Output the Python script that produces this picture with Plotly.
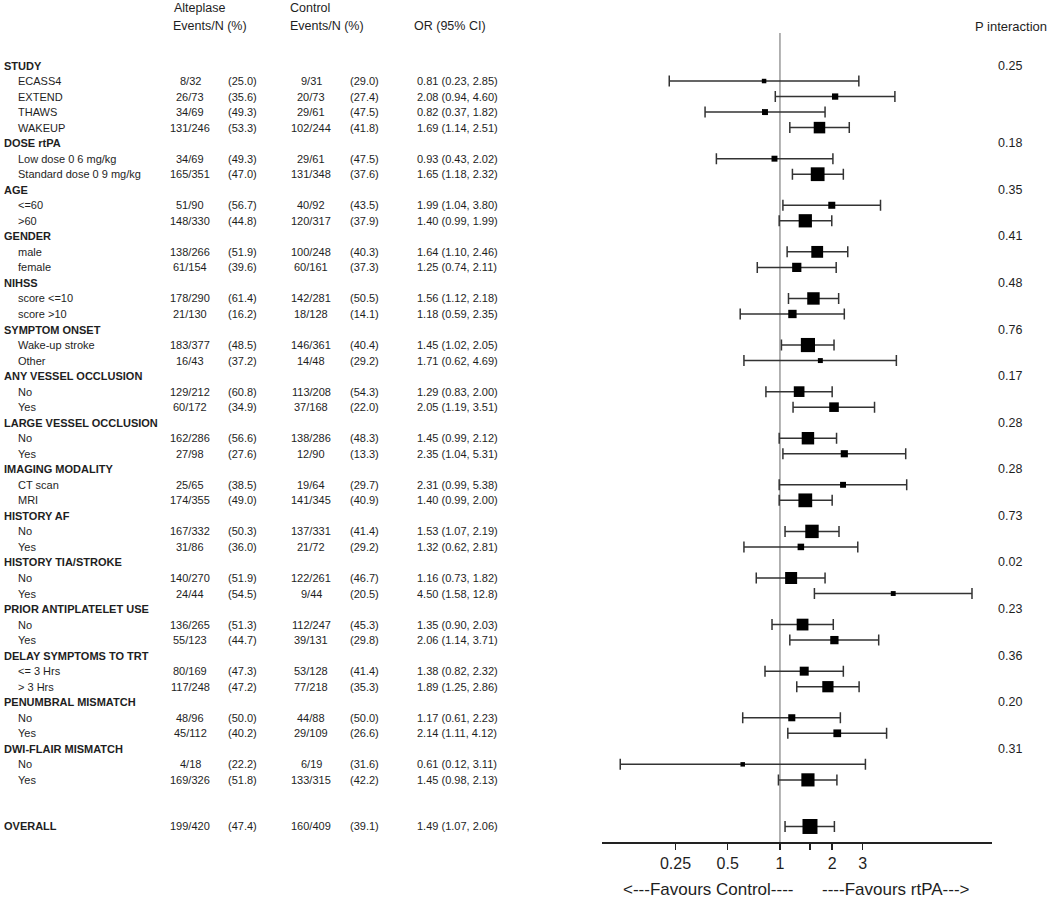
import plotly.graph_objects as go

# ---------------- data ----------------
labels = [
    "STUDY", "ECASS4", "EXTEND", "THAWS", "WAKEUP",
    "DOSE rtPA", "Low dose 0 6 mg/kg", "Standard dose 0 9 mg/kg",
    "AGE", "<=60", ">60",
    "GENDER", "male", "female",
    "NIHSS", "score <=10", "score >10",
    "SYMPTOM ONSET", "Wake-up stroke", "Other",
    "ANY VESSEL OCCLUSION", "No", "Yes",
    "LARGE VESSEL OCCLUSION", "No", "Yes",
    "IMAGING MODALITY", "CT scan", "MRI",
    "HISTORY AF", "No", "Yes",
    "HISTORY TIA/STROKE", "No", "Yes",
    "PRIOR ANTIPLATELET USE", "No", "Yes",
    "DELAY SYMPTOMS TO TRT", "<= 3 Hrs", "> 3 Hrs",
    "PENUMBRAL MISMATCH", "No", "Yes",
    "DWI-FLAIR MISMATCH", "No", "Yes",
    "", "",
    "OVERALL",
]
is_group = [
    1, 0, 0, 0, 0,
    1, 0, 0,
    1, 0, 0,
    1, 0, 0,
    1, 0, 0,
    1, 0, 0,
    1, 0, 0,
    1, 0, 0,
    1, 0, 0,
    1, 0, 0,
    1, 0, 0,
    1, 0, 0,
    1, 0, 0,
    1, 0, 0,
    1, 0, 0,
    0, 0,
    1,
]
N_ = None
alt_events = [N_, 8, 26, 34, 131, N_, 34, 165, N_, 51, 148, N_, 138, 61, N_, 178, 21, N_, 183, 16,
              N_, 129, 60, N_, 162, 27, N_, 25, 174, N_, 167, 31, N_, 140, 24, N_, 136, 55,
              N_, 80, 117, N_, 48, 45, N_, 4, 169, N_, N_, 199]
alt_n = [N_, 32, 73, 69, 246, N_, 69, 351, N_, 90, 330, N_, 266, 154, N_, 290, 130, N_, 377, 43,
         N_, 212, 172, N_, 286, 98, N_, 65, 355, N_, 332, 86, N_, 270, 44, N_, 265, 123,
         N_, 169, 248, N_, 96, 112, N_, 18, 326, N_, N_, 420]
alt_pct = [N_, 25.0, 35.6, 49.3, 53.3, N_, 49.3, 47.0, N_, 56.7, 44.8, N_, 51.9, 39.6, N_, 61.4, 16.2,
           N_, 48.5, 37.2, N_, 60.8, 34.9, N_, 56.6, 27.6, N_, 38.5, 49.0, N_, 50.3, 36.0,
           N_, 51.9, 54.5, N_, 51.3, 44.7, N_, 47.3, 47.2, N_, 50.0, 40.2, N_, 22.2, 51.8, N_, N_, 47.4]
ctl_events = [N_, 9, 20, 29, 102, N_, 29, 131, N_, 40, 120, N_, 100, 60, N_, 142, 18, N_, 146, 14,
              N_, 113, 37, N_, 138, 12, N_, 19, 141, N_, 137, 21, N_, 122, 9, N_, 112, 39,
              N_, 53, 77, N_, 44, 29, N_, 6, 133, N_, N_, 160]
ctl_n = [N_, 31, 73, 61, 244, N_, 61, 348, N_, 92, 317, N_, 248, 161, N_, 281, 128, N_, 361, 48,
         N_, 208, 168, N_, 286, 90, N_, 64, 345, N_, 331, 72, N_, 261, 44, N_, 247, 131,
         N_, 128, 218, N_, 88, 109, N_, 19, 315, N_, N_, 409]
ctl_pct = [N_, 29.0, 27.4, 47.5, 41.8, N_, 47.5, 37.6, N_, 43.5, 37.9, N_, 40.3, 37.3, N_, 50.5, 14.1,
           N_, 40.4, 29.2, N_, 54.3, 22.0, N_, 48.3, 13.3, N_, 29.7, 40.9, N_, 41.4, 29.2,
           N_, 46.7, 20.5, N_, 45.3, 29.8, N_, 41.4, 35.3, N_, 50.0, 26.6, N_, 31.6, 42.2, N_, N_, 39.1]
odds_ratio = [N_, 0.81, 2.08, 0.82, 1.69, N_, 0.93, 1.65, N_, 1.99, 1.40, N_, 1.64, 1.25, N_, 1.56, 1.18,
              N_, 1.45, 1.71, N_, 1.29, 2.05, N_, 1.45, 2.35, N_, 2.31, 1.40, N_, 1.53, 1.32,
              N_, 1.16, 4.50, N_, 1.35, 2.06, N_, 1.38, 1.89, N_, 1.17, 2.14, N_, 0.61, 1.45, N_, N_, 1.49]
ci_low = [N_, 0.23, 0.94, 0.37, 1.14, N_, 0.43, 1.18, N_, 1.04, 0.99, N_, 1.10, 0.74, N_, 1.12, 0.59,
          N_, 1.02, 0.62, N_, 0.83, 1.19, N_, 0.99, 1.04, N_, 0.99, 0.99, N_, 1.07, 0.62,
          N_, 0.73, 1.58, N_, 0.90, 1.14, N_, 0.82, 1.25, N_, 0.61, 1.11, N_, 0.12, 0.98, N_, N_, 1.07]
ci_high = [N_, 2.85, 4.60, 1.82, 2.51, N_, 2.02, 2.32, N_, 3.80, 1.99, N_, 2.46, 2.11, N_, 2.18, 2.35,
           N_, 2.05, 4.69, N_, 2.00, 3.51, N_, 2.12, 5.31, N_, 5.38, 2.00, N_, 2.19, 2.81,
           N_, 1.82, 12.8, N_, 2.03, 3.71, N_, 2.32, 2.86, N_, 2.23, 4.12, N_, 3.11, 2.13, N_, N_, 2.06]
p_interaction = [0.25, N_, N_, N_, N_, 0.18, N_, N_, 0.35, N_, N_, 0.41, N_, N_, 0.48, N_, N_,
                 0.76, N_, N_, 0.17, N_, N_, 0.28, N_, N_, 0.28, N_, N_, 0.73, N_, N_,
                 0.02, N_, N_, 0.23, N_, N_, 0.36, N_, N_, 0.20, N_, N_, 0.31, N_, N_, N_, N_, N_]
tick_values = [0.25, 0.5, 1, 2, 3]

# ---------------- layout helpers ----------------
W, H = 1050, 901
FONT = "Liberation Sans, Arial, sans-serif"
TXT = "#1e1e1e"


def px(x):
    return x / W


def fmt(v):
    return f"{v:.1f}" if v >= 10 else f"{v:.2f}"


rows = list(range(len(labels)))
annotations = []


def add(text, x, y, anchor="center", size=11, bold=False, yref="y", yanchor="middle"):
    annotations.append(dict(
        text=f"<b>{text}</b>" if bold else text, x=px(x), y=y, xref="paper", yref=yref,
        xanchor=anchor, yanchor=yanchor, showarrow=False,
        font=dict(family=FONT, size=size, color=TXT)))


# column headers
add("Alteplase", 172, -3.73, "left", 12.5)
add("Events/N (%)", 171, -2.54, "left", 12.5)
add("Control", 288, -3.73, "left", 12.5)
add("Events/N (%)", 288, -2.54, "left", 12.5)
add("OR (95% CI)", 412, -2.54, "left", 12.5)
add("P interaction", 1049, -2.54, "right", 13)

for r in rows:
    if labels[r]:
        if is_group[r]:
            add(labels[r], 2, r, "left", 11, bold=True)
        else:
            add(labels[r], 16, r, "left", 11)
    if alt_n[r] is not None:
        add(f"{alt_events[r]}/{alt_n[r]}", 190, r)
        add(f"({alt_pct[r]:.1f})", 242, r)
        add(f"{ctl_events[r]}/{ctl_n[r]}", 311, r)
        add(f"({ctl_pct[r]:.1f})", 364, r)
        add(f"{fmt(odds_ratio[r])} ({fmt(ci_low[r])}, {fmt(ci_high[r])})", 457, r)
    if p_interaction[r] is not None:
        add(f"{p_interaction[r]:.2f}", 1010, r, "center", 12.5)

add("&lt;---Favours Control----", 708, 0.0, "center", 17, yref="paper", yanchor="bottom")
add("----Favours rtPA---&gt;", 896, 0.0, "center", 17, yref="paper", yanchor="bottom")

# ---------------- forest trace ----------------
pr = [r for r in rows if odds_ratio[r] is not None]
xs = [odds_ratio[r] for r in pr]
err_plus = [ci_high[r] - odds_ratio[r] for r in pr]
err_minus = [odds_ratio[r] - ci_low[r] for r in pr]
tot = [alt_n[r] + ctl_n[r] for r in pr]
nmax = max(tot)
sizes = [max(4.5, 15 * (t / nmax) ** 0.5) for t in tot]

fig = go.Figure()
fig.add_trace(go.Scatter(
    x=xs, y=pr, mode="markers",
    marker=dict(symbol="square", size=sizes, color="#000000", opacity=1,
                line=dict(width=0, color="#000000")),
    error_x=dict(type="data", symmetric=False, array=err_plus, arrayminus=err_minus,
                 color="#333333", thickness=1.5, width=5.5),
    hoverinfo="skip", showlegend=False))

overall = odds_ratio[-1]
tv = sorted(tick_values + [overall])
tt = ["" if v == overall else (f"{v:g}") for v in tv]

fig.add_shape(type="line", xref="x", yref="y", x0=1, x1=1, y0=-2.09, y1=50.0,
              line=dict(color="#9a9a9a", width=1.5), layer="below")

fig.update_layout(
    width=W, height=H, margin=dict(l=0, r=0, t=0, b=0),
    paper_bgcolor="white", plot_bgcolor="white",
    annotations=annotations,
    xaxis=dict(type="log", domain=[px(602), px(992)], range=[-1.026, 1.2226],
               tickvals=tv, ticktext=tt, ticks="outside", ticklen=6, tickwidth=1.5,
               tickcolor="#222", showline=True, linecolor="#222", linewidth=1.5,
               showgrid=False, zeroline=False,
               tickfont=dict(family=FONT, size=16, color=TXT)),
    yaxis=dict(domain=[1 - 842 / H, 1], range=[50.0, -4.2177], visible=False,
               showgrid=False, zeroline=False),
)

fig.write_html(
    "out.html",
    config={"displayModeBar": False, "staticPlot": True},
    post_script="document.body.style.margin='0';document.body.style.overflow='hidden';",
)
